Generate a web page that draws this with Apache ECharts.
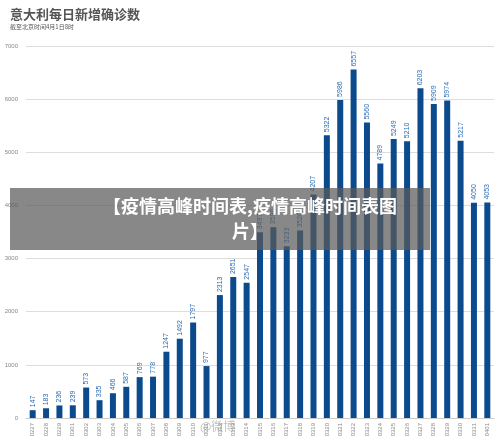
<!DOCTYPE html>
<html><head><meta charset="utf-8">
<script src="https://cdn.jsdelivr.net/npm/echarts@6/dist/echarts.min.js"></script>
<style>html,body{margin:0;padding:0;background:#fff}#c{width:500px;height:442px}</style>
</head><body><div id="c"></div>
<script>
const categories=['0227','0228','0229','0301','0302','0303','0304','0305','0306','0307','0308','0309','0310','0311','0312','0313','0314','0315','0316','0317','0318','0319','0320','0321','0322','0323','0324','0325','0326','0327','0328','0329','0330','0331','0401'];
const values=[147,183,236,239,573,335,466,587,769,778,1247,1492,1797,977,2313,2651,2547,3497,3590,3233,3526,4207,5322,5986,6557,5560,4789,5249,5210,6203,5909,5974,5217,4050,4053];
const yTicks=[0,1000,2000,3000,4000,5000,6000,7000];
const chart=echarts.init(document.getElementById('c'));
chart.setOption({
  animation:false,
  title:{text:'意大利每日新增确诊数',subtext:'截至北京时间4月1日8时',left:5,top:3,itemGap:3,
    textStyle:{fontSize:13,fontWeight:'bold',color:'#555',fontFamily:'Noto Sans CJK SC'},
    subtextStyle:{fontSize:6,color:'#555',fontFamily:'Noto Sans CJK SC'}},
  grid:{left:26,right:6,top:46,bottom:24},
  xAxis:{type:'category',data:categories,axisTick:{show:false},axisLine:{lineStyle:{color:'#ccc'}},
    axisLabel:{rotate:90,fontSize:6,color:'#888',margin:5,interval:0}},
  yAxis:{type:'value',min:0,max:7000,interval:1000,axisLabel:{fontSize:6,color:'#888',formatter:v=>yTicks.includes(v)?String(v):''},
    splitLine:{lineStyle:{color:'#ddd'}}},
  series:[{type:'bar',data:values,barWidth:6,itemStyle:{color:'#0c4a8e'},
    label:{show:true,position:'top',rotate:90,align:'left',verticalAlign:'middle',distance:3,fontSize:7,color:'#2a6bb0'}}],
  graphic:[
    {type:'rect',shape:{x:10,y:188,width:420,height:62},style:{fill:'rgba(90,90,90,0.72)'},z:100},
    {type:'text',z:101,style:{x:250,y:194,text:'【疫情高峰时间表,疫情高峰时间表图\n片】',fill:'#fff',font:'bold 18px "Noto Sans CJK SC"',align:'center',lineHeight:25}},
    {type:'text',left:200,top:420,z:101,style:{text:'@微博',fill:'rgba(150,150,150,0.6)',font:'12px "Noto Sans CJK SC"'}}
  ]
});
</script></body></html>
